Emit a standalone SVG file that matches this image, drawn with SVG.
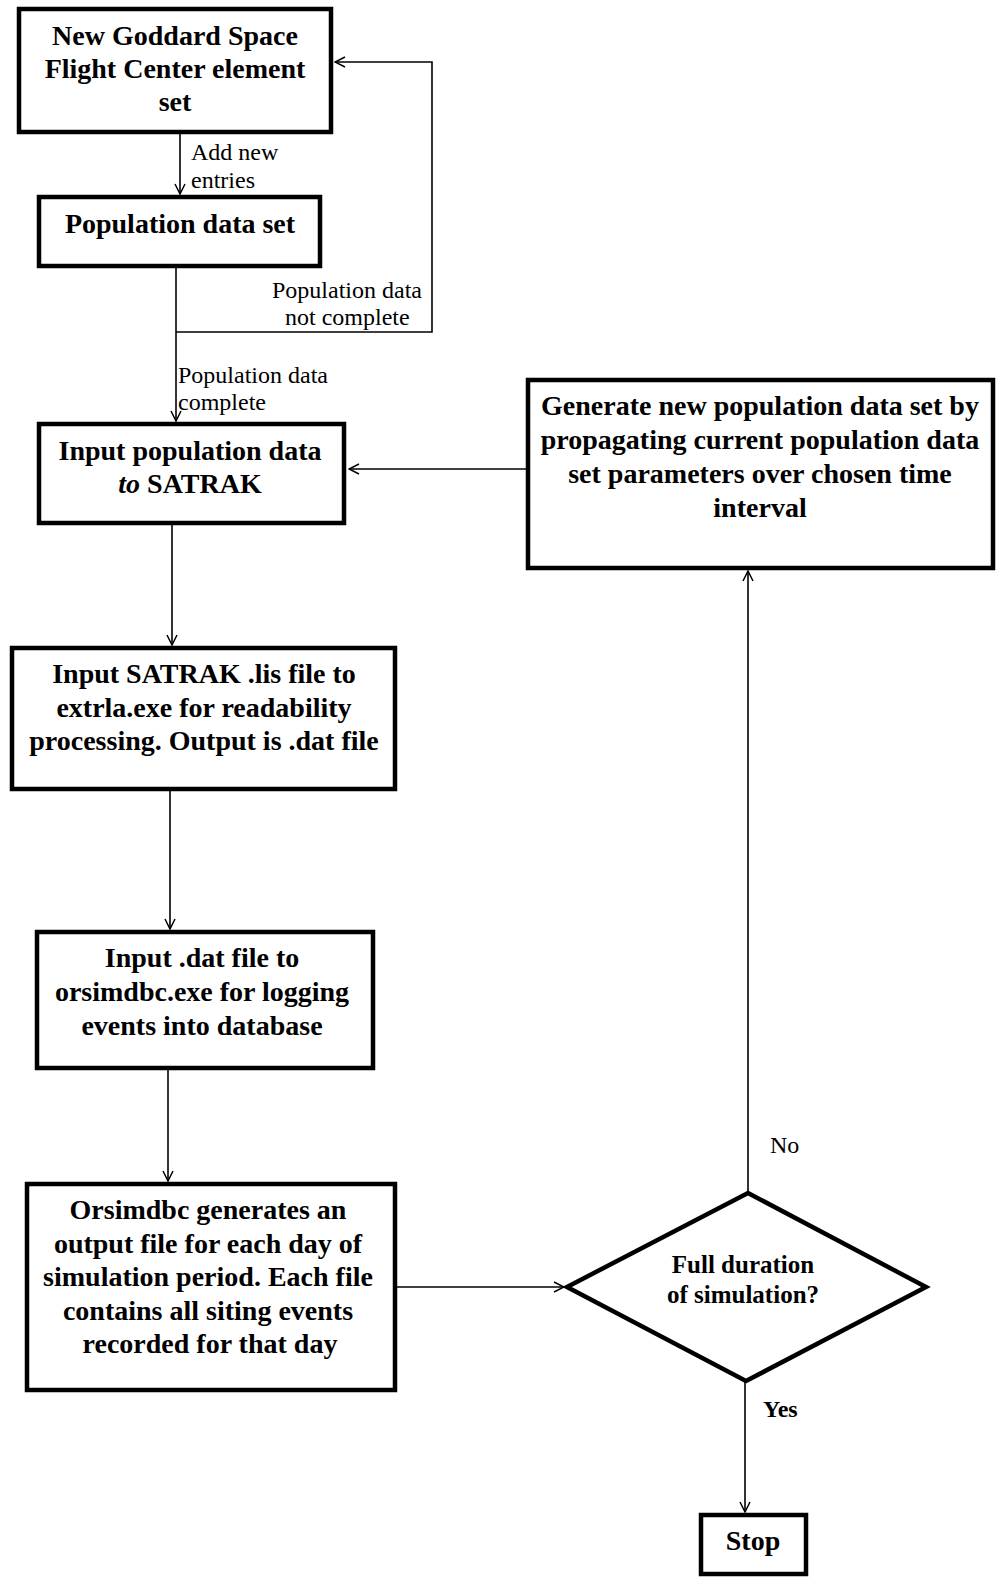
<svg xmlns="http://www.w3.org/2000/svg" width="996" height="1579" viewBox="0 0 996 1579">
<defs>
<style>
.box{fill:#fff;stroke:#000;stroke-width:4.5}
.t{font-family:"Liberation Serif","Times New Roman",serif;font-weight:bold;font-size:28px;fill:#000;text-anchor:middle}
.d{font-size:25px}
.l{font-family:"Liberation Serif","Times New Roman",serif;font-size:24px;fill:#000}
.c{fill:none;stroke:#000;stroke-width:1.6}
</style>
<marker id="ah" viewBox="0 0 12 12" refX="11" refY="6" markerWidth="12" markerHeight="12" markerUnits="userSpaceOnUse" orient="auto">
<polyline points="1,1 11,6 1,11" fill="none" stroke="#000" stroke-width="1.5"/>
</marker>
</defs>
<rect width="996" height="1579" fill="#fff"/>
<g id="connectors">
<path class="c" d="M180,134 V194" marker-end="url(#ah)"/>
<path class="c" d="M176,268 V421" marker-end="url(#ah)"/>
<path class="c" d="M176,332 H432 V62 H335" marker-end="url(#ah)"/>
<path class="c" d="M526,469 H349" marker-end="url(#ah)"/>
<path class="c" d="M172,525 V645" marker-end="url(#ah)"/>
<path class="c" d="M170,791 V929" marker-end="url(#ah)"/>
<path class="c" d="M168,1070 V1181" marker-end="url(#ah)"/>
<path class="c" d="M397,1287 H564" marker-end="url(#ah)"/>
<path class="c" d="M748,1193 V571" marker-end="url(#ah)"/>
<path class="c" d="M745,1382 V1512" marker-end="url(#ah)"/>
<text class="l" x="191" y="160">Add new</text>
<text class="l" x="191" y="188">entries</text>
<text class="l" x="272" y="298">Population data</text>
<text class="l" x="285" y="325">not complete</text>
<text class="l" x="178" y="383">Population data</text>
<text class="l" x="178" y="410">complete</text>
<text class="l" x="770" y="1153">No</text>
<text class="l" x="763" y="1417" font-weight="bold">Yes</text>
</g>
<g id="n1">
<rect class="box" x="19" y="9" width="312" height="123"/>
<text class="t" x="175" y="45">New Goddard Space</text>
<text class="t" x="175" y="78">Flight Center element</text>
<text class="t" x="175" y="111">set</text>
</g>
<g id="n2">
<rect class="box" x="39" y="197" width="281" height="69"/>
<text class="t" x="180" y="233">Population data set</text>
</g>
<g id="n3">
<rect class="box" x="39" y="424" width="305" height="99"/>
<text class="t" x="190" y="460">Input population data</text>
<text class="t" x="190" y="493"><tspan font-style="italic">to</tspan> SATRAK</text>
</g>
<g id="n4">
<rect class="box" x="528" y="380" width="465" height="188"/>
<text class="t" x="760" y="415">Generate new population data set by</text>
<text class="t" x="760" y="449">propagating current population data</text>
<text class="t" x="760" y="483">set parameters over chosen time</text>
<text class="t" x="760" y="517">interval</text>
</g>
<g id="n5">
<rect class="box" x="12" y="648" width="383" height="141"/>
<text class="t" x="204" y="683">Input SATRAK .lis file to</text>
<text class="t" x="204" y="717">extrla.exe for readability</text>
<text class="t" x="204" y="750">processing. Output is .dat file</text>
</g>
<g id="n6">
<rect class="box" x="37" y="932" width="336" height="136"/>
<text class="t" x="202" y="967">Input .dat file to</text>
<text class="t" x="202" y="1001">orsimdbc.exe for logging</text>
<text class="t" x="202" y="1035">events into database</text>
</g>
<g id="n7">
<rect class="box" x="27" y="1184" width="368" height="206"/>
<text class="t" x="208" y="1219">Orsimdbc generates an</text>
<text class="t" x="208" y="1253">output file for each day of</text>
<text class="t" x="208" y="1286">simulation period. Each file</text>
<text class="t" x="208" y="1320">contains all siting events</text>
<text class="t" x="210" y="1353">recorded for that day</text>
</g>
<g id="n8">
<polygon class="box" points="748,1193 926,1287 746,1381 567,1287"/>
<text class="t d" x="743" y="1273">Full duration</text>
<text class="t d" x="743" y="1303">of simulation?</text>
</g>
<g id="n9">
<rect class="box" x="701" y="1515" width="105" height="59"/>
<text class="t" x="753" y="1550">Stop</text>
</g>
</svg>
